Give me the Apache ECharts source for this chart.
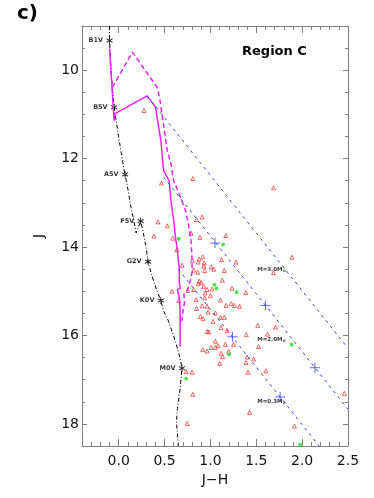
<!DOCTYPE html>
<html>
<head>
<meta charset="utf-8">
<style>
  html, body { margin: 0; padding: 0; background: #fff; }
  #chart { width: 374px; height: 498px; }
</style>
<script src="https://cdn.jsdelivr.net/npm/echarts@6/dist/echarts.min.js"></script>
</head>
<body>
<div id="chart"></div>
<script>
// main sequence (dash-dot)
var msJH = [-0.10, -0.10, -0.08, -0.05, 0.00, 0.06, 0.07, 0.11, 0.14, 0.16, 0.19, 0.24, 0.27, 0.30, 0.32, 0.37, 0.42, 0.46, 0.49, 0.54, 0.62, 0.67, 0.69, 0.67, 0.64, 0.63, 0.65];
var msJ  = [9.00, 9.33, 10.11, 10.84, 11.52, 12.27, 12.36, 12.80, 13.18, 13.34, 13.68, 13.41, 13.70, 14.02, 14.33, 14.70, 15.00, 15.21, 15.45, 15.66, 16.14, 16.52, 16.74, 17.20, 17.65, 17.95, 18.50];
// spectral types marked on the main sequence
var starNames = ['B1V', 'B5V', 'A5V', 'F5V', 'G2V', 'K0V', 'M0V'];
var starJH = [-0.10, -0.05, 0.07, 0.24, 0.32, 0.46, 0.69];
var starJ  = [9.33, 10.84, 12.36, 13.41, 14.33, 15.21, 16.74];
// isochrones (magenta)
var isoJH = [-0.10, -0.05, -0.04, 0.31, 0.40, 0.46, 0.49, 0.55, 0.57, 0.60, 0.62, 0.64, 0.66, 0.66, 0.67, 0.64, 0.66, 0.67, 0.67, 0.67];
var isoJ  = [9.51, 11.14, 10.98, 10.58, 10.83, 11.59, 12.27, 12.50, 12.95, 13.41, 13.79, 14.09, 14.47, 14.77, 14.94, 14.96, 15.15, 15.45, 15.68, 16.25];
var iso2JH = [-0.07, 0.15, 0.42, 0.45, 0.53, 0.57, 0.60, 0.66, 0.73, 0.76, 0.79, 0.80, 0.80, 0.78, 0.75, 0.71, 0.72, 0.70, 0.69];
var iso2J  = [10.39, 9.59, 10.39, 10.68, 11.82, 12.12, 12.50, 12.80, 13.18, 13.48, 13.86, 14.32, 14.58, 14.77, 14.98, 15.07, 15.23, 15.45, 15.68];
// reddening vectors (blue dashed)
var vecStartJH = [0.31, 0.49, 0.65];
var vecStartJ  = [10.58, 12.42, 14.50];
var vecEndJH = [2.50, 2.50, 2.185];
var vecEndJ  = [16.29, 17.67, 18.50];
var crossJH = [1.05, 1.60, 2.14, 1.24, 1.76];
var crossJ  = [13.91, 15.32, 16.73, 16.03, 17.39];
var massText = ['M=3.0M', 'M=2.0M', 'M=0.3M'];
var massJH = [1.51, 1.51, 1.51];
var massJ  = [14.50, 16.10, 17.50];
// sources
var redJH = [0.275,0.467,0.808,1.688,0.427,0.529,0.910,0.848,0.790,1.168,
  0.886,0.590,0.634,1.888,1.688,0.384,0.916,1.120,1.279,0.804,
  0.877,0.866,0.932,0.692,1.008,0.927,1.036,0.818,0.862,0.938,
  1.152,1.130,0.877,0.866,0.899,0.582,0.753,0.818,0.927,0.964,
  1.018,0.942,1.000,1.236,1.386,0.845,0.938,1.228,0.910,0.655,
  1.109,1.318,1.261,1.171,0.964,0.848,0.975,0.891,0.921,1.054,
  1.109,1.152,1.029,1.516,1.710,0.964,0.984,1.116,1.182,1.391,
  1.623,1.054,1.082,1.054,0.916,0.964,1.008,1.163,1.253,1.199,
  1.134,1.116,1.399,1.471,1.388,1.525,1.101,1.410,1.605,0.736,
  0.801,0.808,1.427,0.747,1.916,2.460];
var redJ = [10.91,12.55,12.45,12.66,13.43,13.52,13.32,13.38,13.69,13.74,
  13.78,13.80,14.06,14.23,14.58,13.75,14.22,14.28,14.34,14.30,
  14.27,14.34,14.36,14.41,14.45,14.43,14.50,14.52,14.57,14.53,
  14.53,14.75,14.77,14.83,14.80,15.00,14.98,14.96,14.89,14.96,
  14.95,15.04,15.10,14.93,15.03,15.19,15.15,15.28,15.33,15.21,
  15.20,15.34,15.32,15.32,15.34,15.39,15.47,15.57,15.62,15.49,
  15.59,15.59,15.68,15.77,15.81,15.91,15.92,15.82,15.89,15.98,
  15.97,16.13,16.23,16.27,16.32,16.35,16.27,16.20,16.20,16.36,
  16.48,16.40,16.49,16.53,16.61,16.25,16.63,16.83,16.80,16.82,
  16.83,17.33,17.74,17.99,18.05,17.31];
var greenJH = [0.655, 1.138, 1.043, 1.065, 1.286, 1.203, 0.736, 1.884, 1.978];
var greenJ  = [13.81, 13.94, 14.85, 14.94, 15.02, 16.43, 16.98, 16.21, 18.47];

function zip(a, b) {
  return a.map(function (v, i) { return [v, b[i]]; });
}

var dom = echarts.init(document.getElementById('chart'));
var axisGrey = '#808080';
var tickFont = { fontFamily: 'DejaVu Sans', fontSize: 14, color: '#111' };

function xAx(pos, labels) {
  return {
    type: 'value', position: pos, min: -0.4, max: 2.5, splitNumber: 6,
    name: labels ? 'J\u2212H' : '', nameLocation: 'middle', nameGap: 20,
    nameTextStyle: tickFont,
    axisLine: { show: true, onZero: false, lineStyle: { color: axisGrey } },
    axisTick: { show: true, inside: true, length: 7, lineStyle: { color: axisGrey } },
    minorTick: { show: true, splitNumber: 5, length: 4, lineStyle: { color: axisGrey } },
    axisLabel: Object.assign({ show: labels, margin: 8, showMinLabel: false,
      formatter: function (v) { return v.toFixed(1); } }, tickFont),
    splitLine: { show: false }
  };
}
function yAx(pos, labels) {
  return {
    type: 'value', position: pos, min: 9, max: 18.5, inverse: true, splitNumber: 5,
    name: labels ? 'J' : '', nameLocation: 'middle', nameGap: 36,
    nameTextStyle: tickFont,
    axisLine: { show: true, onZero: false, lineStyle: { color: axisGrey } },
    axisTick: { show: true, inside: true, length: 5, lineStyle: { color: axisGrey } },
    minorTick: { show: true, splitNumber: 4, length: 3, lineStyle: { color: axisGrey } },
    axisLabel: Object.assign({ show: labels, margin: 3, showMinLabel: false, showMaxLabel: false }, tickFont),
    splitLine: { show: false }
  };
}

var series = [
  {
    type: 'line', data: zip(msJH, msJ), symbol: 'none',
    lineStyle: { color: '#000', width: 1, type: [4, 2, 1, 2] }
  },
  {
    type: 'line', data: zip(isoJH, isoJ), symbol: 'none',
    lineStyle: { color: '#ee22ee', width: 1.5 }
  },
  {
    type: 'line', data: zip(iso2JH, iso2J), symbol: 'none',
    lineStyle: { color: '#ee22ee', width: 1.5, type: [5, 3] }
  }
];
vecStartJH.forEach(function (s, i) {
  series.push({
    type: 'line', data: [[s, vecStartJ[i]], [vecEndJH[i], vecEndJ[i]]], symbol: 'none',
    lineStyle: { color: '#3344ee', width: 1, type: [3, 4] }
  });
});
series.push({
  type: 'scatter', data: zip(crossJH, crossJ),
  symbol: 'path://M0,-5L0,5M-5,0L5,0', symbolSize: 10,
  itemStyle: { color: 'rgba(0,0,0,0)', borderColor: '#3344ee', borderWidth: 1 }
});
series.push({
  type: 'scatter', data: zip(redJH, redJ), symbol: 'triangle', symbolSize: 4,
  itemStyle: { color: 'rgba(0,0,0,0)', borderColor: '#f04040', borderWidth: 1 }
});
series.push({
  type: 'scatter', data: zip(greenJH, greenJ), symbol: 'circle', symbolSize: 4,
  itemStyle: { color: '#22e022' }
});
series.push({
  type: 'scatter',
  data: starJH.map(function (v, i) { return { value: [v, starJ[i]], name: starNames[i] }; }),
  symbol: 'path://M0,-4L0,4M-3.46,-2L3.46,2M-3.46,2L3.46,-2', symbolSize: [6, 7],
  itemStyle: { color: 'rgba(0,0,0,0)', borderColor: '#000', borderWidth: 1 },
  label: {
    show: true, position: 'left', distance: 3, formatter: '{b}',
    fontFamily: 'DejaVu Sans', fontSize: 6.5, fontWeight: 'bold', color: '#000'
  }
});
series.push({
  type: 'scatter',
  data: massJH.map(function (v, i) { return { value: [v, massJ[i]], name: massText[i] }; }),
  symbolSize: 0,
  label: {
    show: true, position: 'right', distance: 0,
    formatter: function (p) { return p.name + '{s|\u2299}'; },
    fontFamily: 'DejaVu Sans', fontSize: 5.5, fontWeight: 'bold', color: '#000',
    rich: { s: { fontSize: 4, verticalAlign: 'bottom', fontFamily: 'DejaVu Sans', color: '#000', padding: [3, 0, 0, 0] } }
  }
});

var option = {
  animation: false,
  backgroundColor: '#fff',
  title: [
    { text: 'c)', left: 17, top: 4, padding: 0,
      textStyle: { fontFamily: 'DejaVu Sans', fontSize: 20, fontWeight: 'bold', color: '#000' } },
    { text: 'Region C', left: 242, top: 45, padding: 0,
      textStyle: { fontFamily: 'DejaVu Sans', fontSize: 13, fontWeight: 'bold', color: '#000' } }
  ],
  grid: { left: 82, right: 26, top: 26, bottom: 52, containLabel: false },
  xAxis: [xAx('bottom', true), xAx('top', false)],
  yAxis: [yAx('left', true), yAx('right', false)],
  series: series
};
dom.setOption(option);
</script>
</body>
</html>
